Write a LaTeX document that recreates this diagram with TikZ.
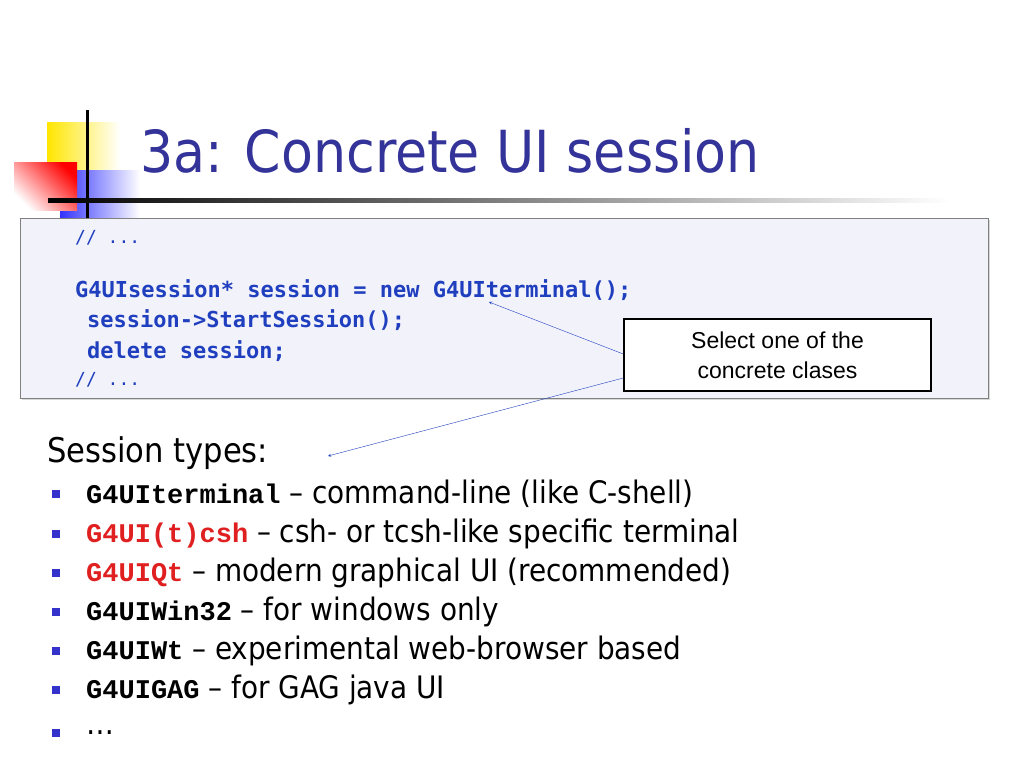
\documentclass[tikz,border=0pt]{standalone}
\usepackage{fontspec}
\setmainfont{DejaVu Sans Condensed}
\newfontfamily\calloutfont{Liberation Sans}
\newfontfamily\codefont{DejaVu Sans Mono}
\newfontfamily\itemfont{Liberation Mono}
\usetikzlibrary{positioning,shadows}
\definecolor{titleblue}{HTML}{333399}
\definecolor{codeblue}{HTML}{1F3FBF}
\definecolor{codebg}{HTML}{F2F2FB}
\definecolor{keyred}{HTML}{E02020}
\definecolor{bulletblue}{HTML}{3333CC}
\tikzset{
  codeline/.style={anchor=west, text=codeblue, font=\codefont\bfseries\fontsize{22}{24}\selectfont, inner sep=0pt},
  itemline/.style={anchor=west, font=\fontsize{31}{34}\selectfont, inner sep=0pt},
  bulletbox/.style={fill=bulletblue, minimum size=8pt, inner sep=0pt},
  pointer/.style={->, >=stealth, codeblue, thin}
}
\newcommand{\gname}[2][black]{\textcolor{#1}{\itemfont\bfseries\fontsize{27}{30}\selectfont #2}}
\begin{document}
\begin{tikzpicture}[x=1pt,y=-1pt]
  \useasboundingbox (0,0) rectangle (1024,768);
  \fill[white] (0,0) rectangle (1024,768);
  % Logo
  \shade[left color=yellow!80!orange, right color=white] (47,122) rectangle (120,170);
  \shade[left color=blue!80, right color=white] (60,170) rectangle (140,218);
  \shade[top color=red, bottom color=white, shading angle=-45] (14,162) rectangle (77,210);
  \draw[line width=3pt] (87,110) -- (87,218);
  \shade[left color=black, right color=white] (48,198) rectangle (950,202);
  % Titolo
  \node[anchor=base west, text=titleblue, font=\fontsize{58}{60}\selectfont, inner sep=0pt] (title) at (140,172) {3a: Concrete UI session};
  % Riquadro codice
  \draw[gray, fill=codebg, drop shadow={shadow xshift=2pt, shadow yshift=-2pt, opacity=0.3}] (20,218) rectangle (988,398);
  \node[codeline, font=\codefont\fontsize{18}{20}\selectfont] (c1) at (75,238) {// ...};
  \node[codeline] (c2) at (75,290) {G4UIsession* session = new G4UIterminal();};
  \node[codeline] (c3) at (87,320) {session->StartSession();};
  \node[codeline] (c4) at (87,351) {delete session;};
  \node[codeline, font=\codefont\fontsize{18}{20}\selectfont] (c5) at (75,380) {// ...};
  \coordinate (target) at (489,302);
  % Nota
  \node[draw, line width=1.5pt, fill=white, minimum width=307pt, minimum height=72pt, align=center,
        font=\calloutfont\fontsize{23}{30}\selectfont] (note) at (777.5,355) {Select one of the\\concrete clases};
  % Elenco
  \node[itemline, font=\fontsize{34}{36}\selectfont] (types) at (47,453) {Session types:};
  \coordinate (typesend) at (328,456);
  \draw[pointer] (note.west |- 0,354) -- (target);
  \draw[pointer] (note.west |- 0,378) -- (typesend);
  \foreach \y/\txt in {494/{\gname{G4UIterminal} -- command-line (like C-shell)},
                      534/{\gname[keyred]{G4UI(t)csh} -- csh- or tcsh-like specific terminal},
                      573/{\gname[keyred]{G4UIQt} -- modern graphical UI (recommended)},
                      612/{\gname{G4UIWin32} -- for windows only},
                      651/{\gname{G4UIWt} -- experimental web-browser based},
                      690/{\gname{G4UIGAG} -- for GAG java UI},
                      733/{\dots}} {
    \node[bulletbox] (b\y) at (56,\y) {};
    \node[itemline] (t\y) at (86,\y) {\txt};
  }
\end{tikzpicture}
\end{document}
